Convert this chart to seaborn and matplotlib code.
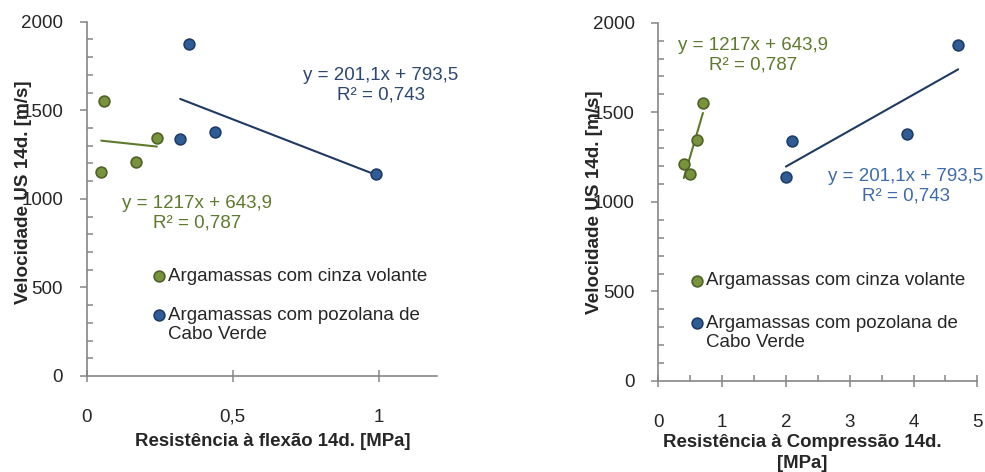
import numpy as np
import pandas as pd
import matplotlib
matplotlib.use("Agg")
import matplotlib.pyplot as plt
from matplotlib.ticker import FuncFormatter, MultipleLocator
import seaborn as sns

# Ultrasonic velocity at 14 days vs. strength, two mortar families
velocidade_cinza = [1550, 1153, 1210, 1345]
flexao_cinza = [0.06, 0.05, 0.17, 0.24]
compressao_cinza = [0.70, 0.50, 0.40, 0.60]

velocidade_pozolana = [1875, 1337, 1380, 1140]
flexao_pozolana = [0.35, 0.32, 0.44, 0.99]
compressao_pozolana = [4.70, 2.10, 3.90, 2.00]

serie_cinza = "Argamassas com cinza volante"
serie_pozolana = "Argamassas com pozolana de\nCabo Verde"

eq_cinza = "y = 1217x + 643,9\nR² = 0,787"
eq_pozolana = "y = 201,1x + 793,5\nR² = 0,743"

y_label = "Velocidade US 14d. [m/s]"
x_label_flexao = "Resistência à flexão 14d. [MPa]"
x_label_compressao = "Resistência à Compressão 14d.\n[MPa]"

sns.set_style("white")
plt.rcParams["font.family"] = ["Liberation Sans", "DejaVu Sans"]

GREEN_FILL, GREEN_EDGE, GREEN_LINE, GREEN_TEXT = "#77933C", "#4F6228", "#5F7A2D", "#5E7A2E"
BLUE_FILL, BLUE_EDGE, BLUE_LINE = "#2F5C95", "#1F3D66", "#1F3A63"
AXIS_GRAY = "#868686"

fig = plt.figure(figsize=(9.85, 4.72), dpi=100)
ax1 = fig.add_axes([0.088, 0.2034, 0.356, 0.7506])
ax2 = fig.add_axes([0.6683, 0.1928, 0.3239, 0.7591])

df_cinza = pd.DataFrame({"flexao": flexao_cinza, "compressao": compressao_cinza,
                         "velocidade": velocidade_cinza})
df_pozolana = pd.DataFrame({"flexao": flexao_pozolana, "compressao": compressao_pozolana,
                            "velocidade": velocidade_pozolana})


def draw_panel(ax, xcol, xmax, xmajor, xminor, xlabel, eq_pos_cinza, eq_pos_pozolana,
               blue_text, legend_anchor, legend_spacing, xlabel_pos, ylabel_pos):
    # linear trend lines over each series' range
    sns.regplot(data=df_cinza, x=xcol, y="velocidade", ax=ax, scatter=False, ci=None,
                truncate=True, line_kws=dict(color=GREEN_LINE, lw=1.5))
    sns.regplot(data=df_pozolana, x=xcol, y="velocidade", ax=ax, scatter=False, ci=None,
                truncate=True, line_kws=dict(color=BLUE_LINE, lw=1.5))
    sns.scatterplot(data=df_cinza, x=xcol, y="velocidade", ax=ax, s=60, color=GREEN_FILL,
                    edgecolor=GREEN_EDGE, linewidth=1.2, label=serie_cinza, zorder=3)
    sns.scatterplot(data=df_pozolana, x=xcol, y="velocidade", ax=ax, s=60, color=BLUE_FILL,
                    edgecolor=BLUE_EDGE, linewidth=1.2, label=serie_pozolana, zorder=3)

    ax.set_xlim(0, xmax)
    ax.set_ylim(0, 2000)
    ax.yaxis.set_major_locator(MultipleLocator(500))
    ax.yaxis.set_minor_locator(MultipleLocator(100))
    ax.xaxis.set_major_locator(MultipleLocator(xmajor))
    if xminor:
        ax.xaxis.set_minor_locator(MultipleLocator(xminor))
    fmt = FuncFormatter(lambda v, p: f"{v:g}".replace(".", ","))
    ax.xaxis.set_major_formatter(fmt)
    ax.yaxis.set_major_formatter(fmt)

    for side in ("top", "right"):
        ax.spines[side].set_visible(False)
    for side in ("left", "bottom"):
        ax.spines[side].set_color(AXIS_GRAY)
        ax.spines[side].set_linewidth(1.2)

    ax.tick_params(axis="y", which="major", direction="out", length=5, width=1.1,
                   color=AXIS_GRAY, pad=12, labelsize=13.5, left=True)
    ax.tick_params(axis="x", which="major", direction="inout", length=9, width=1.1,
                   color=AXIS_GRAY, pad=19, labelsize=13.5, bottom=True)
    ax.tick_params(axis="y", which="minor", direction="in", length=4, width=1.1,
                   color=AXIS_GRAY, left=True)
    ax.tick_params(axis="x", which="minor", direction="in", length=4, width=1.1,
                   color=AXIS_GRAY, bottom=True)

    ax.set_ylabel(y_label, fontsize=13.6, fontweight="bold")
    ax.yaxis.set_label_coords(*ylabel_pos)
    ax.set_xlabel(xlabel, fontsize=13.4, fontweight="bold", linespacing=1.3)
    ax.xaxis.set_label_coords(*xlabel_pos)

    ax.text(*eq_pos_cinza, eq_cinza, transform=ax.transAxes, ha="center", va="center",
            multialignment="center", fontsize=13.5, color=GREEN_TEXT, linespacing=1.15)
    ax.text(*eq_pos_pozolana, eq_pozolana, transform=ax.transAxes, ha="center", va="center",
            multialignment="center", fontsize=13.5, color=blue_text, linespacing=1.15)

    leg = ax.legend(loc="upper left", bbox_to_anchor=legend_anchor, frameon=False,
                    fontsize=13.5, handletextpad=0.0, handlelength=1.0,
                    labelspacing=legend_spacing, borderpad=0, borderaxespad=0)
    # keep each marker level with the first line of its label
    for column in leg._legend_handle_box.get_children():
        for item in column.get_children():
            item.align = "top"


draw_panel(ax1, "flexao", 1.2, 0.5, None, x_label_flexao,
           (0.314, 0.459), (0.838, 0.821), "#2C4770", (0.179, 0.304), 1.15,
           (0.531, -0.16), (-0.155, 0.519))
draw_panel(ax2, "compressao", 5, 1, 0.5, x_label_compressao,
           (0.297, 0.909), (0.776, 0.544), "#3E6BAA", (0.091, 0.303), 1.35,
           (0.45, -0.148), (-0.172, 0.50))

fig.savefig("out.png", dpi=100, facecolor="white")
